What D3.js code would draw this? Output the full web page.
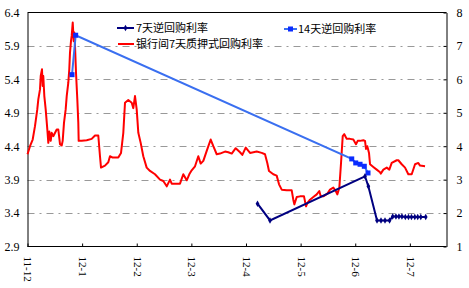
<!DOCTYPE html>
<html>
<head>
<meta charset="utf-8">
<script src="https://cdn.jsdelivr.net/npm/d3@7"></script>
<style>
html,body{margin:0;padding:0;background:#fff;}
svg{display:block;}
</style>
</head>
<body>
<svg id="chart" width="469" height="288"></svg>
<script>
// month tick labels (position 0 = 2011-12)
const monthLabels = ["11-12","12-1","12-2","12-3","12-4","12-5","12-6","12-7"];
const leftTicks = [2.9,3.4,3.9,4.4,4.9,5.4,5.9,6.4];
const rightTicks = [1,2,3,4,5,6,7,8];
const seriesNames = ["7天逆回购利率","14天逆回购利率","银行间7天质押式回购利率"];

// 银行间7天质押式回购利率: [month position, rate]
const interbank7d = [
[0.000,4.28],[0.046,4.40],[0.095,4.50],[0.137,4.70],[0.179,4.95],[0.198,5.10],[0.229,5.25],[0.242,5.45],
[0.265,5.55],[0.278,5.30],[0.289,5.45],[0.308,5.15],[0.333,4.95],[0.363,4.65],[0.381,4.45],[0.399,4.62],
[0.425,4.48],[0.443,4.60],[0.472,4.55],[0.535,4.65],[0.564,4.65],[0.595,4.43],[0.626,4.41],[0.644,4.48],
[0.668,4.75],[0.699,4.95],[0.718,5.15],[0.747,5.35],[0.765,5.55],[0.778,5.80],[0.796,5.97],[0.809,6.05],
[0.828,6.25],[0.846,5.97],[0.857,6.10],[0.870,5.90],[0.888,5.50],[0.912,5.10],[0.930,4.75],[0.937,4.48],
[0.992,4.48],[1.084,4.49],[1.175,4.51],[1.236,4.56],[1.296,4.56],[1.327,4.25],[1.346,4.08],[1.419,4.11],
[1.479,4.16],[1.510,4.25],[1.560,4.23],[1.662,4.23],[1.712,4.30],[1.754,4.60],[1.785,5.05],[1.845,5.09],
[1.908,5.05],[1.937,4.97],[1.968,5.15],[1.999,4.95],[2.029,4.60],[2.072,4.45],[2.120,4.25],[2.182,4.08],
[2.243,4.03],[2.334,3.98],[2.426,3.90],[2.486,3.88],[2.549,3.80],[2.609,3.90],[2.640,3.84],[2.732,3.84],
[2.792,3.84],[2.852,3.98],[2.915,3.89],[2.962,3.98],[3.006,4.04],[3.067,4.10],[3.127,4.25],[3.171,4.14],
[3.219,4.18],[3.281,4.33],[3.354,4.50],[3.402,4.40],[3.464,4.28],[3.524,4.29],[3.616,4.32],[3.676,4.31],
[3.739,4.29],[3.812,4.37],[3.891,4.31],[3.933,4.27],[3.995,4.38],[4.074,4.30],[4.196,4.32],[4.288,4.30],
[4.348,4.28],[4.390,4.15],[4.421,4.03],[4.500,3.98],[4.562,3.96],[4.605,3.83],[4.654,3.75],[4.746,3.74],
[4.837,3.74],[4.866,3.60],[4.885,3.53],[4.929,3.64],[4.989,3.65],[5.062,3.65],[5.099,3.50],[5.123,3.55],
[5.172,3.60],[5.233,3.64],[5.295,3.68],[5.342,3.73],[5.368,3.65],[5.416,3.65],[5.489,3.69],[5.538,3.75],
[5.599,3.78],[5.643,3.73],[5.672,3.68],[5.709,3.78],[5.740,4.15],[5.771,4.55],[5.800,4.58],[5.844,4.51],
[5.904,4.51],[5.965,4.50],[6.014,4.43],[6.045,4.48],[6.087,4.48],[6.148,4.49],[6.179,4.48],[6.197,4.36],
[6.221,4.40],[6.252,4.30],[6.271,4.13],[6.331,4.09],[6.393,4.05],[6.454,4.01],[6.467,3.99],[6.515,4.05],
[6.577,4.08],[6.624,4.05],[6.668,4.15],[6.760,4.19],[6.789,4.19],[6.851,4.13],[6.912,4.08],[6.972,3.98],
[7.034,3.98],[7.095,4.13],[7.155,4.15],[7.186,4.11],[7.278,4.10]
];

// 14天逆回购利率
const reverseRepo14d = [
[0.815,5.47],[0.882,6.06],[5.936,4.21],[6.009,4.15],[6.088,4.13],[6.166,4.10],[6.234,4.00]
];

// 7天逆回购利率
const reverseRepo7d = [
[4.211,3.54],[4.440,3.29],[6.179,3.95],[6.240,3.80],[6.399,3.29],[6.472,3.29],[6.545,3.29],[6.628,3.29],
[6.686,3.35],[6.745,3.35],[6.800,3.35],[6.855,3.35],[6.917,3.34],[6.975,3.34],[7.030,3.34],[7.090,3.34],
[7.144,3.34],[7.200,3.34],[7.290,3.34]
];

const svg = d3.select("#chart");
const L = 27.5, R = 446.5, T = 12.5, B = 246.5;

const x = d3.scaleLinear().domain([0, 7.68]).range([L, 447]);
const y = d3.scaleLinear().domain([2.9, 6.4]).range([B, T]);
const yR = d3.scaleLinear().domain([1, 8]).range([B, T]);

const numFont = "'Liberation Serif', 'Times New Roman', serif";
const cjkFont = "'Noto Sans CJK SC', sans-serif";

// gridlines
svg.append("g").selectAll("line")
  .data(leftTicks.filter(d => d > 2.9 && d < 6.4))
  .join("line")
  .attr("x1", L).attr("x2", R)
  .attr("y1", d => Math.round(y(d)) + 0.5).attr("y2", d => Math.round(y(d)) + 0.5)
  .attr("stroke", "#999").attr("stroke-width", 1)
  .attr("stroke-dasharray", "7,5,2,5");

// left axis labels
const leftAxis = d3.axisLeft(y).tickValues(leftTicks).tickSize(0).tickPadding(8)
  .tickFormat(d3.format(".1f"));
svg.append("g").attr("transform", `translate(${L},0)`).call(leftAxis)
  .call(g => g.select(".domain").attr("stroke", "#000"))
  .call(g => g.selectAll("text").attr("font-family", numFont).attr("font-size", 12).attr("fill", "#000"));

// right axis
const rightAxis = d3.axisRight(yR).tickValues(rightTicks).tickSizeInner(-3).tickSizeOuter(0).tickPadding(10)
  .tickFormat(d3.format("d"));
svg.append("g").attr("transform", `translate(${R},0)`).call(rightAxis)
  .call(g => g.select(".domain").attr("stroke", "#000"))
  .call(g => g.selectAll("line").attr("stroke", "#000"))
  .call(g => g.selectAll("text").attr("font-family", numFont).attr("font-size", 12).attr("fill", "#000"));

// top border
svg.append("line").attr("x1", L).attr("x2", R).attr("y1", T).attr("y2", T).attr("stroke", "#000");

// bottom axis
const xAxis = d3.axisBottom(x).tickValues(d3.range(monthLabels.length))
  .tickSizeInner(-3).tickSizeOuter(0).tickFormat(i => monthLabels[i]);
const gx = svg.append("g").attr("transform", `translate(0,${B})`).call(xAxis);
gx.select(".domain").attr("d", `M${L},0H${R}`).attr("stroke", "#000");
gx.selectAll("line").attr("stroke", "#000");
gx.selectAll("text")
  .attr("font-family", numFont).attr("font-size", 11).attr("fill", "#000")
  .attr("text-anchor", "start")
  .attr("transform", "rotate(90)")
  .attr("x", 10).attr("y", 0).attr("dy", "0.32em");

// series
const line = d3.line().x(d => x(d[0])).y(d => y(d[1]));

svg.append("path").datum(interbank7d)
  .attr("d", line).attr("fill", "none")
  .attr("stroke", "#ff0000").attr("stroke-width", 2).attr("stroke-linejoin", "round");

svg.append("path").datum(reverseRepo14d)
  .attr("d", line).attr("fill", "none")
  .attr("stroke", "#3a6ff0").attr("stroke-width", 2);
svg.append("g").selectAll("rect").data(reverseRepo14d).join("rect")
  .attr("x", d => x(d[0]) - 2.5).attr("y", d => y(d[1]) - 2.5)
  .attr("width", 5).attr("height", 5).attr("fill", "#0a2cff");

svg.append("path").datum(reverseRepo7d)
  .attr("d", line).attr("fill", "none")
  .attr("stroke", "#000080").attr("stroke-width", 2);
const diamond = d3.symbol().type(d3.symbolDiamond).size(12);
svg.append("g").selectAll("path").data(reverseRepo7d).join("path")
  .attr("d", diamond)
  .attr("transform", d => `translate(${x(d[0])},${y(d[1])})`)
  .attr("fill", "#000080");

// legend
const legend = svg.append("g");
function legendItem(lx1, lx2, ly, color, marker, tx, label) {
  legend.append("line").attr("x1", lx1).attr("x2", lx2).attr("y1", ly).attr("y2", ly)
    .attr("stroke", color).attr("stroke-width", 2);
  const cx = (lx1 + lx2) / 2;
  if (marker === "diamond") {
    legend.append("path").attr("d", diamond).attr("transform", `translate(${cx},${ly})`).attr("fill", color);
  } else if (marker === "square") {
    legend.append("rect").attr("x", cx - 2.5).attr("y", ly - 2.5).attr("width", 5).attr("height", 5).attr("fill", "#0a2cff");
  }
  legend.append("text").attr("x", tx).attr("y", ly).attr("dy", "0.36em")
    .attr("font-family", cjkFont).attr("font-size", 11).attr("fill", "#000").text(label);
}
legendItem(117, 134, 28, "#000080", "diamond", 136, seriesNames[0]);
legendItem(284, 297, 29, "#3a6ff0", "square", 298, seriesNames[1]);
legendItem(118, 134, 44, "#ff0000", null, 136, seriesNames[2]);
</script>
</body>
</html>
